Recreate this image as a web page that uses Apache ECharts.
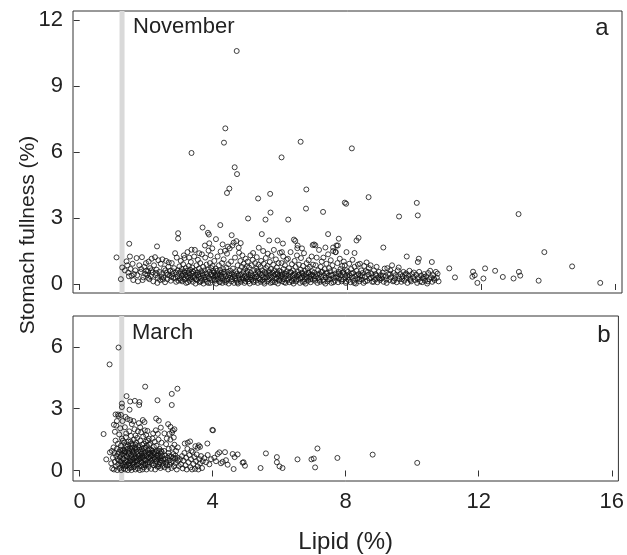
<!DOCTYPE html>
<html>
<head>
<meta charset="utf-8">
<script src="https://cdn.jsdelivr.net/npm/echarts@6/dist/echarts.min.js"></script>
<style>
  html, body { margin: 0; padding: 0; background: #fff; }
  #chart { width: 627px; height: 555px; }
</style>
</head>
<body>
<div id="chart"></div>
<script>
// lipid (%) tick values shared by both panels
const lipidTicks = [0, 4, 8, 12, 16];
const novemberTicks = [0, 3, 6, 9, 12];
const marchTicks = [0, 3, 6];
// grey reference line position (lipid %)
const refLipid = 1.265;

// November: [lipid %, stomach fullness %]
const novemberHigh = [
  [4.69,10.6],[4.35,7.08],[4.31,6.43],[3.34,5.96],[4.63,5.31],[4.70,5.0],[4.47,4.34],[4.40,4.14],
  [6.60,6.47],[6.03,5.76],[6.77,4.3],[6.76,3.43],[5.69,4.1],[5.33,3.89],[5.70,3.25],[5.55,2.93],
  [5.03,2.98],[6.23,2.93],[4.20,2.68],[3.67,2.57],[3.83,2.33],[3.86,2.25],[2.94,2.31],[2.94,2.07],
  [4.54,2.22],[5.44,2.27],[4.07,2.04],[5.66,1.98],[5.91,1.98],[6.40,2.02],[6.44,1.96],[6.51,1.75],
  [6.64,1.62],[6.07,1.84],[6.04,1.45],[6.96,1.77],[1.48,1.83],[2.31,1.71],[3.34,1.56],[4.81,1.86],
  [8.13,6.17],[7.92,3.70],[7.96,3.65],[8.63,3.95],[7.27,3.28],[10.07,3.69],[10.10,3.12],[9.54,3.07],
  [13.11,3.18],[7.42,2.27],[7.74,2.06],[8.33,2.10],[8.27,1.98],[7.0,1.80],[7.04,1.76],[7.34,1.66],
  [7.57,1.66],[7.71,1.75],[9.07,1.66],[8.21,1.41],[7.97,1.45],[7.65,1.45],[9.77,1.25],[10.13,1.15],
  [10.10,1.0],[10.52,1.0],[13.88,1.45],[14.71,0.8],[15.55,0.05],[13.71,0.15],[13.16,0.38],[13.12,0.55],
  [12.96,0.25],[12.64,0.32],[12.41,0.6],[12.11,0.71],[12.06,0.25],[11.75,0.56],[11.73,0.33],[11.88,0.05],
  [11.21,0.3],[11.04,0.71],[11.80,0.40]
];

const novemberBand = [
  [1.10,1.21],[1.23,0.22],[1.27,0.75],[1.40,1.03],[1.50,1.25],[1.45,0.52],[1.52,0.68],[1.55,0.38],
  [1.58,0.92],[1.62,0.45],[1.66,0.62],[1.70,1.18],[1.74,0.12],[1.78,0.85],[1.82,0.55],[1.84,0.68],
  [1.86,1.22],[1.90,0.30],[1.93,0.78],[1.96,0.46],[1.98,0.95],[1.47,0.35],[1.60,0.18],[1.72,0.40],
  [1.88,0.18],[1.35,0.62],[1.42,0.85],[1.99,0.60],
  [2.02,0.42],[2.04,0.58],[2.06,1.02],[2.08,0.22],[2.10,0.72],[2.12,0.35],[2.15,1.15],[2.18,0.52],
  [2.20,0.12],[2.22,0.85],[2.25,1.22],[2.27,0.40],[2.30,0.65],[2.33,0.28],[2.35,1.08],[2.38,0.55],
  [2.40,0.18],[2.42,0.92],[2.45,0.45],[2.47,1.12],[2.50,0.30],[2.52,0.70],[2.55,0.08],[2.58,1.05],
  [2.60,0.50],[2.62,0.22],[2.65,0.78],[2.68,0.38],[2.70,0.60],[2.72,0.15],[2.75,0.95],[2.77,0.45],
  [2.80,0.28],[2.82,0.72],[2.85,1.40],[2.87,0.52],[2.88,0.10],[2.90,1.20],[2.32,0.05],[2.56,0.62],
  [2.66,0.98],[2.14,0.62],[2.44,0.32],[2.78,0.58],
  [2.05,0.28],[2.28,0.50],[2.48,0.20],[2.63,0.42],[2.74,0.32],[2.86,0.25],
  [2.92,0.35],[2.93,0.62],[2.95,0.15],[2.96,0.48],[2.98,0.80],[3.00,0.25],[3.01,0.55],[3.02,1.05],
  [3.04,0.38],[3.05,0.68],[3.06,0.12],[3.08,0.45],[3.09,0.90],[3.10,0.30],[3.12,0.58],[3.13,1.18],
  [3.14,0.20],[3.16,0.42],[3.17,0.72],[3.18,0.05],[3.20,0.35],[3.21,0.60],[3.22,1.45],[3.24,0.28],
  [3.25,0.50],[3.26,0.82],[3.28,0.15],[3.29,0.40],[3.30,0.65],[3.32,1.00],[3.33,0.22],[3.35,0.48],
  [3.36,0.75],[3.38,0.10],[3.39,0.35],[3.40,0.55],[3.42,1.25],[3.43,0.28],[3.45,0.62],[3.46,0.02],
  [3.48,0.42],[3.49,0.85],[3.50,0.18],[3.52,0.52],[3.53,1.10],[3.55,0.32],[3.56,0.70],[3.58,0.08],
  [3.59,0.45],[3.60,0.95],[3.62,0.25],[3.63,0.58],[3.65,1.35],[3.66,0.15],[3.68,0.40],[3.69,0.78],
  [3.70,0.02],[3.72,0.30],[3.73,0.62],[3.75,1.20],[3.76,0.20],[3.78,0.48],[3.79,0.88],[3.80,0.10],
  [3.82,0.35],[3.83,0.65],[3.85,1.52],[3.86,0.25],[3.88,0.55],[3.89,0.95],[3.90,0.05],[3.92,0.42],
  [3.93,0.72],[3.95,0.18],[3.96,1.62],[3.98,0.38],[3.99,0.60],[3.97,0.82],[3.44,1.55],[3.57,1.40],
  [3.74,1.75],[3.87,1.85],[3.11,1.30],[3.27,1.20],[3.91,1.30],
  [3.03,0.18],[3.15,0.52],[3.23,0.08],[3.31,0.30],[3.37,0.58],[3.47,0.22],[3.54,0.40],[3.61,0.12],
  [3.67,0.50],[3.77,0.32],[3.84,0.05],[3.94,0.45],
  [4.00,0.28],[4.01,0.52],[4.02,1.05],[4.04,0.15],[4.05,0.40],[4.06,0.70],[4.08,0.02],[4.09,0.35],
  [4.10,0.60],[4.12,1.25],[4.13,0.22],[4.14,0.48],[4.16,0.85],[4.17,0.10],[4.18,0.38],[4.20,0.62],
  [4.21,1.48],[4.22,0.25],[4.24,0.52],[4.25,0.95],[4.26,0.05],[4.28,0.32],[4.29,0.68],[4.30,1.12],
  [4.32,0.18],[4.33,0.45],[4.34,1.51],[4.36,0.08],[4.37,0.35],[4.38,0.75],[4.40,1.38],[4.41,0.22],
  [4.42,0.55],[4.44,0.90],[4.45,0.02],[4.46,0.40],[4.48,1.62],[4.49,0.28],[4.50,0.60],[4.52,1.02],
  [4.53,0.12],[4.54,0.45],[4.56,1.75],[4.57,0.32],[4.58,0.70],[4.60,1.88],[4.61,0.05],[4.62,0.42],
  [4.64,1.20],[4.65,0.25],[4.66,0.58],[4.68,1.95],[4.69,0.15],[4.70,0.48],[4.72,0.85],[4.73,0.02],
  [4.74,0.38],[4.76,1.42],[4.77,0.22],[4.78,0.62],[4.80,1.05],[4.81,0.10],[4.82,0.45],[4.84,0.78],
  [4.85,0.30],[4.86,1.30],[4.88,0.18],[4.89,0.55],[4.90,0.92],[4.92,0.05],[4.93,0.35],[4.94,0.68],
  [4.96,1.15],[4.97,0.25],[4.98,0.50],[4.99,0.80],[4.43,1.70],[4.75,1.65],[4.27,1.80],
  [4.03,0.20],[4.11,0.42],[4.19,0.08],[4.23,0.35],[4.31,0.55],[4.39,0.15],[4.47,0.48],[4.55,0.22],
  [4.63,0.35],[4.71,0.08],[4.79,0.40],[4.87,0.25],[4.95,0.12],
  [5.00,0.32],[5.01,0.58],[5.02,1.02],[5.04,0.12],[5.05,0.42],[5.06,0.75],[5.08,0.02],[5.09,0.30],
  [5.10,1.30],[5.12,0.50],[5.13,0.20],[5.14,0.85],[5.16,0.38],[5.17,1.10],[5.18,1.41],[5.20,0.08],
  [5.21,0.62],[5.22,0.28],[5.24,0.95],[5.25,0.45],[5.26,0.15],[5.28,0.70],[5.29,1.22],[5.30,0.35],
  [5.32,0.05],[5.33,0.55],[5.34,0.88],[5.35,1.65],[5.36,0.25],[5.38,0.48],[5.40,0.78],[5.41,0.10],
  [5.42,1.05],[5.44,0.40],[5.45,0.62],[5.46,0.18],[5.48,1.50],[5.49,0.32],[5.50,0.92],[5.52,0.02],
  [5.53,0.55],[5.54,0.28],[5.56,1.18],[5.57,0.72],[5.58,0.45],[5.60,0.12],[5.61,0.82],[5.62,1.38],
  [5.64,0.35],[5.65,0.58],[5.66,0.20],[5.68,1.00],[5.69,0.42],[5.70,0.05],[5.72,0.68],[5.73,1.28],
  [5.74,0.30],[5.76,0.52],[5.77,0.15],[5.78,0.88],[5.80,1.55],[5.81,0.38],[5.82,0.62],[5.84,0.08],
  [5.85,0.45],[5.86,1.12],[5.88,0.25],[5.89,0.75],[5.90,0.50],[5.92,0.02],[5.93,0.35],[5.94,0.95],
  [5.96,0.60],[5.97,0.18],[5.98,1.42],[5.99,0.42],
  [5.03,0.22],[5.11,0.40],[5.19,0.15],[5.27,0.32],[5.31,0.60],[5.39,0.20],[5.47,0.48],[5.51,0.10],
  [5.59,0.30],[5.67,0.50],[5.75,0.08],[5.83,0.25],[5.91,0.45],[5.95,0.15],
  [6.00,0.28],[6.02,0.55],[6.03,0.95],[6.05,0.12],[6.06,0.42],[6.08,1.25],[6.09,0.68],[6.10,0.22],
  [6.12,0.48],[6.13,0.85],[6.15,0.05],[6.16,0.35],[6.18,1.10],[6.19,0.58],[6.20,0.18],[6.22,1.15],
  [6.24,0.40],[6.25,0.72],[6.27,0.08],[6.28,0.30],[6.30,1.45],[6.31,0.52],[6.33,0.15],[6.34,0.90],
  [6.36,0.38],[6.37,0.62],[6.39,0.02],[6.40,0.25],[6.42,1.05],[6.43,0.48],[6.45,0.78],[6.46,0.12],
  [6.48,0.35],[6.49,1.30],[6.50,1.63],[6.52,0.55],[6.54,0.20],[6.55,0.88],[6.57,0.42],[6.58,0.05],
  [6.60,0.65],[6.61,1.18],[6.63,0.30],[6.64,0.52],[6.66,0.10],[6.67,0.82],[6.69,0.38],[6.70,1.40],
  [6.72,0.22],[6.73,0.60],[6.75,0.02],[6.76,0.45],[6.78,0.95],[6.79,0.28],[6.81,0.70],[6.82,0.15],
  [6.84,1.08],[6.85,0.50],[6.87,0.32],[6.88,0.78],[6.90,0.08],[6.91,0.42],[6.93,1.25],[6.94,0.58],
  [6.96,0.20],[6.97,0.88],[6.99,0.35],
  [6.04,0.35],[6.11,0.08],[6.17,0.45],[6.23,0.25],[6.29,0.55],[6.35,0.12],[6.41,0.40],[6.47,0.20],
  [6.53,0.42],[6.59,0.28],[6.65,0.48],[6.71,0.10],[6.77,0.32],[6.83,0.52],[6.89,0.22],[6.95,0.42],
  [7.01,0.52],[7.03,0.15],[7.05,0.85],[7.06,0.35],[7.08,1.20],[7.10,0.05],[7.12,0.62],[7.13,0.28],
  [7.15,1.55],[7.17,0.45],[7.18,0.10],[7.20,0.78],[7.22,0.32],[7.23,1.02],[7.25,0.55],[7.27,0.18],
  [7.28,1.20],[7.30,0.40],[7.32,0.68],[7.34,0.02],[7.35,0.30],[7.37,0.92],[7.39,0.50],[7.40,0.12],
  [7.42,1.35],[7.44,0.38],[7.45,0.72],[7.47,0.22],[7.49,0.58],[7.50,1.08],[7.52,0.05],[7.54,0.42],
  [7.55,0.85],[7.57,1.50],[7.59,0.28],[7.60,0.62],[7.62,0.15],[7.64,1.45],[7.65,0.48],[7.67,1.75],
  [7.69,0.35],[7.70,0.95],[7.72,0.08],[7.74,0.55],[7.75,0.25],[7.77,1.15],[7.79,0.68],[7.80,0.40],
  [7.82,0.12],[7.84,0.82],[7.85,0.52],[7.87,0.20],[7.89,1.02],[7.90,0.45],[7.92,0.85],[7.94,0.30],
  [7.95,0.05],[7.97,0.62],[7.99,0.38],
  [7.02,0.25],[7.09,0.45],[7.16,0.18],[7.21,0.55],[7.29,0.10],[7.36,0.48],[7.43,0.22],[7.51,0.38],
  [7.58,0.08],[7.66,0.30],[7.73,0.45],[7.81,0.20],[7.88,0.55],[7.96,0.12],
  [8.01,0.55],[8.03,0.18],[8.05,0.92],[8.07,0.40],[8.09,0.08],[8.11,0.68],[8.13,0.30],[8.15,1.10],
  [8.17,0.50],[8.19,0.15],[8.21,0.78],[8.23,0.35],[8.25,0.02],[8.27,0.60],[8.29,0.25],[8.31,0.88],
  [8.33,0.45],[8.35,0.12],[8.37,0.92],[8.39,0.38],[8.41,0.62],[8.43,0.20],[8.45,0.50],[8.48,0.05],
  [8.50,0.82],[8.52,0.32],[8.55,0.58],[8.57,0.98],[8.59,0.15],[8.62,0.42],[8.64,0.72],[8.66,0.25],
  [8.69,0.85],[8.71,0.48],[8.74,0.10],[8.76,0.35],[8.79,0.62],[8.82,0.20],[8.84,0.45],[8.87,0.78],
  [8.89,0.08],[8.92,0.30],[8.94,0.55],[8.97,0.18],[8.99,0.40],
  [8.04,0.30],[8.12,0.48],[8.20,0.05],[8.28,0.40],[8.36,0.22],[8.44,0.35],[8.53,0.12],[8.61,0.55],
  [8.70,0.28],[8.78,0.10],[8.86,0.38],[8.95,0.25],
  [9.02,0.25],[9.05,0.52],[9.08,0.10],[9.11,0.70],[9.14,0.35],[9.17,0.05],[9.19,0.72],[9.22,0.45],
  [9.25,0.18],[9.28,0.62],[9.30,0.30],[9.33,0.85],[9.36,0.12],[9.38,0.50],[9.41,0.25],[9.44,0.40],
  [9.47,0.08],[9.50,0.62],[9.53,0.75],[9.55,0.22],[9.58,0.45],[9.61,0.10],[9.64,0.35],[9.67,0.55],
  [9.70,0.15],[9.73,0.42],[9.76,0.28],[9.79,0.05],[9.82,0.38],[9.85,0.60],[9.87,0.24],[9.90,0.12],
  [9.93,0.45],[9.96,0.30],[9.98,0.52],
  [9.06,0.38],[9.16,0.20],[9.27,0.45],[9.39,0.15],[9.52,0.35],[9.63,0.22],[9.75,0.48],[9.88,0.18],
  [10.02,0.18],[10.05,0.42],[10.08,0.05],[10.11,0.30],[10.14,0.55],[10.17,0.12],[10.20,0.38],[10.23,0.08],
  [10.26,0.25],[10.29,0.45],[10.32,0.15],[10.35,0.35],[10.38,0.02],[10.41,0.50],[10.44,0.22],[10.47,0.60],
  [10.50,0.30],[10.53,0.10],[10.56,0.40],[10.60,0.18],[10.64,0.55],[10.67,0.28],[10.69,0.47],[10.72,0.12],
  [10.10,0.22],[10.28,0.32],[10.40,0.12],[10.58,0.25]
];

// March: [lipid %, stomach fullness %]
const marchSparse = [
  [1.17,5.97],[0.90,5.15],[1.97,4.07],[2.94,3.97],[2.77,3.72],[2.77,3.18],[2.34,3.41],[1.41,3.61],
  [1.52,3.35],[1.66,3.38],[1.80,3.32],[1.79,3.18],[1.27,3.25],[1.27,3.08],[1.50,2.95],[0.72,1.77],
  [0.80,0.54],[0.91,0.88],[1.08,2.72],[1.15,2.72],[1.03,2.22],[1.10,2.18],[2.30,2.52],[2.38,2.42],
  [2.44,2.08],[2.66,2.25],[2.73,2.12],[2.80,1.95],[2.85,2.0],[3.99,1.97],[4.01,1.95],[3.84,1.31],
  [3.32,1.41],[3.16,1.31],[3.58,1.22],[3.62,1.15],[3.55,1.10],[4.37,0.89],[4.60,0.80],[4.75,0.78],
  [4.66,0.65],[4.93,0.40],[4.90,0.38],[4.97,0.23],[5.44,0.12],[5.60,0.83],[5.93,0.65],[5.93,0.40],
  [6.01,0.20],[6.10,0.12],[6.55,0.54],[6.97,0.54],[7.04,0.58],[7.08,0.15],[7.15,1.07],[7.75,0.61],
  [8.81,0.77],[10.15,0.37],[4.63,0.07],[4.30,0.42],[4.40,0.50],[4.05,0.62],[4.15,0.80],[4.20,0.88],
  [3.75,0.60],[3.80,0.40],[3.85,0.75],[3.90,0.30],[3.95,0.55],[4.10,0.45],[4.25,0.35],[4.45,0.28]
];

const marchCluster = [
  [0.95,0.35],[0.98,0.10],[1.00,0.62],[1.02,1.12],[1.03,0.05],[1.05,0.85],[1.06,0.42],[1.08,1.45],
  [1.09,0.20],[1.10,0.70],[1.12,1.05],[1.13,0.02],[1.14,0.55],[1.15,1.30],[1.16,0.30],[1.18,0.90],
  [1.19,1.75],[1.20,0.12],[1.21,0.65],[1.22,2.05],[1.23,0.45],[1.24,1.20],[1.25,0.02],[1.26,0.80],
  [1.27,1.55],[1.28,0.25],[1.29,2.40],[1.30,0.58],[1.06,1.88],[1.12,2.40],[0.97,0.95],[1.17,2.65],
  [1.24,2.70],
  [1.31,1.00],[1.32,0.10],[1.33,0.72],[1.34,1.35],[1.35,0.38],[1.36,2.10],[1.37,0.05],[1.38,0.90],
  [1.39,1.62],[1.40,0.50],[1.41,0.22],[1.42,1.15],[1.43,0.68],[1.44,2.50],[1.45,0.02],[1.46,0.85],
  [1.47,1.40],[1.48,0.35],[1.49,1.90],[1.50,0.60],[1.51,0.12],[1.52,1.08],[1.53,0.45],[1.54,1.68],
  [1.55,0.75],[1.56,0.02],[1.57,2.25],[1.58,0.95],[1.59,0.30],[1.60,1.25],[1.61,0.55],[1.62,0.15],
  [1.63,1.50],[1.64,0.80],[1.65,2.00],[1.66,0.40],[1.67,1.10],[1.68,0.05],[1.69,0.65],[1.70,1.35],
  [1.35,0.95],[1.40,1.80],[1.45,1.25],[1.50,0.25],[1.55,1.30],[1.60,0.88],[1.65,0.62],[1.38,2.60],
  [1.52,2.45],[1.62,2.40],[1.68,1.70],[1.33,0.30],[1.43,0.42],[1.58,0.50],[1.48,0.78],[1.56,1.02],
  [1.71,0.28],[1.72,0.90],[1.73,1.58],[1.74,0.45],[1.75,0.10],[1.76,1.20],[1.77,0.70],[1.78,2.30],
  [1.79,0.35],[1.80,1.00],[1.81,0.02],[1.82,1.45],[1.83,0.60],[1.84,0.20],[1.85,1.85],[1.86,0.82],
  [1.87,0.42],[1.88,1.25],[1.89,0.05],[1.90,0.95],[1.91,1.65],[1.92,0.55],[1.93,0.15],[1.94,1.10],
  [1.95,0.72],[1.96,1.95],[1.97,0.32],[1.98,0.88],[1.99,1.40],[2.00,0.50],[2.01,0.05],[2.02,1.20],
  [2.03,0.78],[2.04,1.92],[2.05,0.38],[2.06,0.98],[2.07,0.18],[2.08,1.55],[2.09,0.62],[2.10,1.02],
  [1.75,1.90],[1.82,2.10],[1.90,2.45],[1.95,2.35],[2.00,1.72],[2.05,1.45],[1.80,0.55],[1.88,0.68],
  [1.98,0.25],[2.08,0.85],[1.73,0.62],[1.93,1.30],
  [2.11,0.40],[2.12,1.30],[2.14,0.70],[2.15,0.08],[2.16,1.00],[2.18,0.52],[2.19,1.55],[2.20,0.85],
  [2.22,0.25],[2.23,1.15],[2.24,0.62],[2.26,1.40],[2.27,0.05],[2.28,0.90],[2.30,0.45],[2.31,1.20],
  [2.32,0.72],[2.34,0.18],[2.35,1.78],[2.36,0.55],[2.38,0.95],[2.39,0.30],[2.40,1.05],[2.42,0.60],
  [2.43,0.12],[2.44,0.82],[2.46,1.35],[2.47,0.48],[2.48,0.70],[2.50,0.22],[2.18,0.95],[2.25,0.80],
  [2.33,0.62],[2.41,0.40],[2.13,0.58],[2.21,1.80],[2.29,1.95],[2.37,1.50],[2.45,0.95],
  [2.52,0.55],[2.54,0.95],[2.56,0.15],[2.58,0.72],[2.60,1.28],[2.62,0.40],[2.64,0.62],[2.66,0.05],
  [2.68,1.05],[2.70,0.50],[2.71,0.28],[2.73,1.50],[2.75,0.68],[2.76,0.12],[2.78,1.10],[2.80,0.45],
  [2.82,0.80],[2.84,0.20],[2.85,1.25],[2.87,0.58],[2.89,0.35],[2.90,0.95],[2.92,0.05],[2.94,0.62],
  [2.96,0.48],[2.98,0.22],[2.55,1.80],[2.62,1.55],[2.70,1.78],[2.78,1.85],[2.83,1.60],[2.67,0.85],
  [2.88,0.72],[2.95,1.12],[2.59,0.30],
  [3.02,0.55],[3.05,0.30],[3.08,0.70],[3.10,0.10],[3.12,0.48],[3.15,0.85],[3.18,0.25],[3.20,0.62],
  [3.22,0.05],[3.24,1.05],[3.27,0.40],[3.30,0.75],[3.33,0.15],[3.35,0.55],[3.38,0.05],[3.40,0.90],
  [3.42,0.32],[3.45,0.65],[3.47,0.08],[3.50,0.45],[3.52,0.78],[3.55,0.20],[3.57,0.05],[3.60,0.55],
  [3.62,0.35],[3.65,0.70],[3.68,0.12],[3.70,0.45],[3.25,1.35],[3.48,1.18],[3.36,0.95],
  [1.15,0.80],[1.18,0.48],[1.22,1.00],[1.25,0.35],[1.28,0.95],[1.30,1.45],[1.32,0.55],[1.34,0.85],
  [1.36,0.20],[1.38,1.20],[1.41,0.70],[1.44,1.05],[1.46,0.28],[1.49,0.95],[1.51,0.45],[1.53,1.40],
  [1.55,0.15],[1.57,0.65],[1.59,1.10],[1.61,0.38],[1.63,0.95],[1.66,0.20],[1.68,1.25],[1.70,0.48],
  [1.72,1.05],[1.74,0.78],[1.76,0.30],[1.78,1.12],[1.80,0.72],[1.83,0.92],[1.85,0.40],[1.87,1.05],
  [1.89,0.62],[1.91,0.28],[1.94,0.82],[1.96,0.52],[1.99,1.10],[2.01,0.70],[2.03,0.30],[2.06,0.62],
  [2.09,1.25],[2.12,0.85],[2.15,0.48],[2.17,0.72],[2.20,0.35],[2.23,0.88],[2.26,0.55],[2.29,0.30],
  [2.32,0.95],[2.35,0.72],[2.38,0.20],[2.41,0.68],[2.44,0.48],[2.47,0.90],[2.51,0.38],[2.57,0.55],
  [2.63,0.25],[2.69,0.70],[2.74,0.40],[2.81,0.62]
];

const chart = echarts.init(document.getElementById("chart"));

const font = "Liberation Sans, Arial, sans-serif";
const ink = "#222";

const xAxisBase = {
  type: "value",
  min: -0.2,
  max: 16.2,
  axisLine: { show: false },
  splitLine: { show: false },
  axisTick: { show: true, inside: false, length: 6, customValues: lipidTicks, lineStyle: { color: "#333" } },
  axisLabel: { customValues: lipidTicks, fontSize: 22, color: ink, fontFamily: font, margin: 10 },
};

const yAxisBase = {
  type: "value",
  axisLine: { show: false },
  splitLine: { show: false },
  axisTick: { show: true, inside: false, length: 6, lineStyle: { color: "#333" } },
  axisLabel: { fontSize: 22, color: ink, fontFamily: font, margin: 10 },
};

const pointStyle = {
  type: "scatter",
  symbol: "circle",
  symbolSize: 5,
  itemStyle: { color: "rgba(0,0,0,0)", borderColor: "#111", borderWidth: 1 },
  z: 3,
  silent: true,
};

function refLine(idx, ymin, ymax) {
  return {
    type: "line",
    xAxisIndex: idx,
    yAxisIndex: idx,
    data: [[refLipid, ymin], [refLipid, ymax]],
    symbol: "none",
    lineStyle: { color: "#d9d9d9", width: 5 },
    z: 1,
    silent: true,
  };
}

const option = {
  animation: false,
  backgroundColor: "#fff",
  grid: [
    { left: 73, right: 5, top: 11, height: 282, show: true, borderColor: "#333", borderWidth: 1 },
    { left: 73, right: 5, top: 316, height: 173, show: true, borderColor: "#333", borderWidth: 1 },
  ],
  xAxis: [
    { ...xAxisBase, gridIndex: 0, axisLabel: { show: false } },
    {
      ...xAxisBase,
      gridIndex: 1,
      name: "Lipid (%)",
      nameLocation: "middle",
      nameGap: 49,
      nameTextStyle: { fontSize: 24, color: ink, fontFamily: font },
    },
  ],
  yAxis: [
    {
      ...yAxisBase,
      gridIndex: 0,
      min: -0.41,
      max: 12.42,
      axisTick: { ...yAxisBase.axisTick, customValues: novemberTicks },
      axisLabel: { ...yAxisBase.axisLabel, customValues: novemberTicks },
    },
    {
      ...yAxisBase,
      gridIndex: 1,
      min: -0.51,
      max: 7.5,
      axisTick: { ...yAxisBase.axisTick, customValues: marchTicks },
      axisLabel: { ...yAxisBase.axisLabel, customValues: marchTicks },
    },
  ],
  graphic: [
    {
      type: "text",
      x: 28,
      y: 235,
      rotation: Math.PI / 2,
      style: { text: "Stomach fullness (%)", fontSize: 21, fill: ink, fontFamily: font, align: "center", verticalAlign: "middle" },
    },
    { type: "text", x: 133, y: 27, style: { text: "November", fontSize: 22, fill: ink, fontFamily: font, verticalAlign: "middle" } },
    { type: "text", x: 602, y: 28, style: { text: "a", fontSize: 24, fill: ink, fontFamily: font, align: "center", verticalAlign: "middle" } },
    { type: "text", x: 132, y: 333, style: { text: "March", fontSize: 22, fill: ink, fontFamily: font, verticalAlign: "middle" } },
    { type: "text", x: 604, y: 335, style: { text: "b", fontSize: 24, fill: ink, fontFamily: font, align: "center", verticalAlign: "middle" } },
  ],
  series: [
    refLine(0, -0.41, 12.42),
    refLine(1, -0.51, 7.5),
    { ...pointStyle, xAxisIndex: 0, yAxisIndex: 0, data: novemberBand.concat(novemberHigh) },
    { ...pointStyle, xAxisIndex: 1, yAxisIndex: 1, data: marchCluster.concat(marchSparse) },
  ],
};

chart.setOption(option);
</script>
</body>
</html>
